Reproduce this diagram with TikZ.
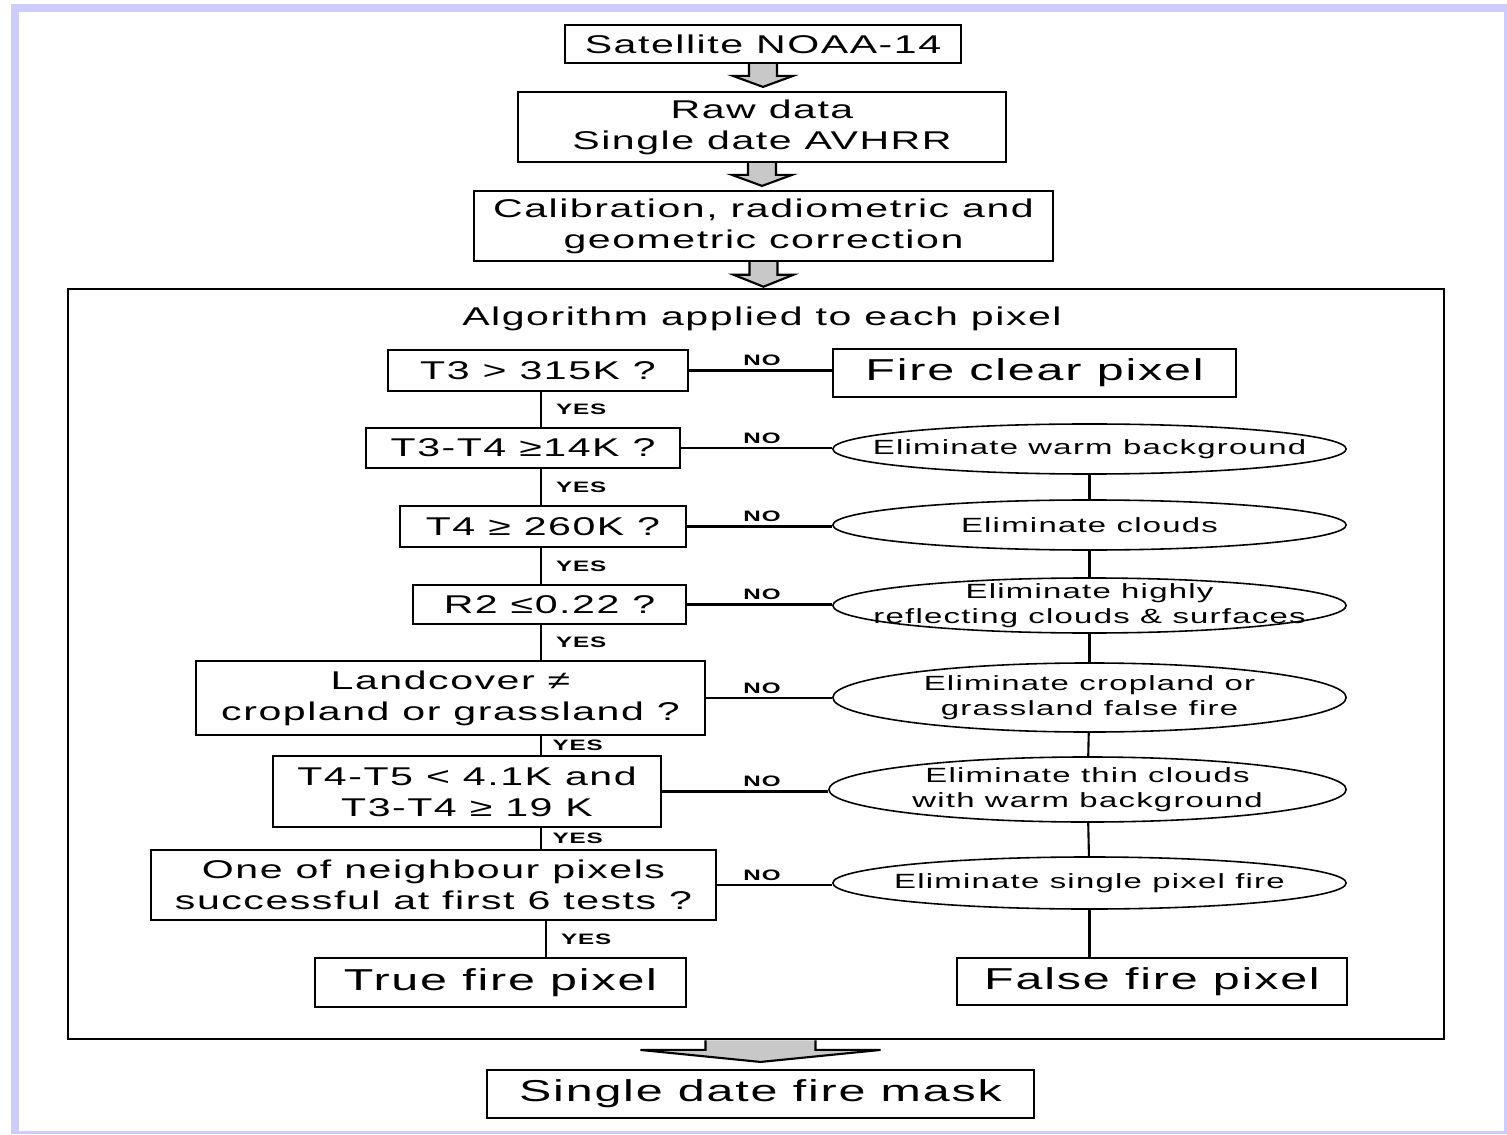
\documentclass[tikz,border=0pt]{standalone}
\usepackage{fontspec}
\setmainfont{Liberation Sans}[FakeStretch=1.6,LetterSpace=6]
\usetikzlibrary{calc,shapes.geometric}
\definecolor{lav}{RGB}{204,204,255}
\definecolor{arrgray}{RGB}{200,200,200}
\newcommand\fmain{\fontsize{7.3}{8.8}\selectfont}
\newcommand\fbig{\fontsize{8.6}{10}\selectfont}
\newcommand\fsmall{\fontsize{5.85}{7}\selectfont}
\newcommand\flab{\fontsize{4.3}{5}\selectfont\bfseries}
\newcommand\fatarrow[6]{\draw[fill=arrgray]($(#1)+(-#3,0)$)--($(#1|-#2)+(-#3,-#5-#6)$)--($(#1|-#2)+(-#4,-#5-#6)$)--($(#1|-#2)+(0,-#6)$)--($(#1|-#2)+(#4,-#5-#6)$)--($(#1|-#2)+(#3,-#5-#6)$)--($(#1)+(#3,0)$);}
\begin{document}
\begin{tikzpicture}[x=0.01cm,y=-0.01cm,line width=.6pt,
box/.style={draw,inner sep=0pt,align=center,font=\fmain},
elli/.style={ellipse,draw,line width=.45pt,inner sep=0pt,minimum width=5.13cm},
etext/.style={align=center,font=\fsmall,inner sep=0pt},
lbl/.style={font=\flab,inner sep=1pt}]
\useasboundingbox(0,0)rectangle(1507,1134);
\fill[lav](11,4)rectangle(1507,1134);\fill[white](19,12)rectangle(1504,1131);
\node[box,minimum width=3.95cm,minimum height=.38cm](sat)at(763,44){Satellite NOAA-14};
\node[box,minimum width=4.88cm,minimum height=.7cm](raw)at(762,127){Raw data\\Single date AVHRR};
\node[box,minimum width=5.79cm,minimum height=.7cm](cal)at(763.5,226){Calibration, radiometric and\\geometric correction};
\node[draw,minimum width=13.76cm,minimum height=7.5cm](alg)at(756,664){};
\node[font=\fmain](tit)at(762,319){Algorithm applied to each pixel};
\node[box,minimum width=3cm,minimum height=.41cm](t1)at(538,370.5){T3 > 315K ?};
\node[box,font=\fbig,minimum width=4.03cm,minimum height=.48cm](fc)at(1034.5,373){Fire clear pixel};
\node[box,minimum width=3.14cm,minimum height=.4cm](t2)at(523,448){T3-T4 ≥14K ?};
\node[elli,minimum height=.5cm](e2)at(1089.5,449){};\node[etext]at(e2){Eliminate warm background};
\node[box,minimum width=2.86cm,minimum height=.41cm](t3)at(543,526.5){T4 ≥ 260K ?};
\node[elli,minimum height=.5cm](e3)at(1089.5,525){};\node[etext]at(e3){Eliminate clouds};
\node[box,minimum width=2.73cm,minimum height=.39cm](t4)at(549.5,604.5){R2 ≤0.22 ?};
\node[elli,minimum height=.55cm](e4)at(1089.5,605.5){};\node[etext]at(e4){Eliminate highly\\reflecting clouds \& surfaces};
\node[box,minimum width=5.09cm,minimum height=.74cm](t5)at(450.5,698){Landcover ≠\\cropland or grassland ?};
\node[elli,minimum height=.69cm](e5)at(1089.5,697.5){};\node[etext]at(e5){Eliminate cropland or\\grassland false fire};
\node[box,minimum width=3.88cm,minimum height=.71cm](t6)at(467,791.5){T4-T5 < 4.1K and\\T3-T4 ≥ 19 K};
\node[elli,minimum width=5.17cm,minimum height=.65cm](e6)at(1087.5,789.5){};\node[etext]at(e6){Eliminate thin clouds\\with warm background};
\node[box,minimum width=5.65cm,minimum height=.7cm](t7)at(433.5,885){One of neighbour pixels\\successful at first 6 tests ?};
\node[elli,minimum height=.52cm](e7)at(1089.5,883){};\node[etext]at(e7){Eliminate single pixel fire};
\node[box,font=\fbig,minimum width=3.71cm,minimum height=.49cm](tf)at(500.5,982.5){True fire pixel};
\node[box,font=\fbig,minimum width=3.9cm,minimum height=.47cm](ff)at(1152,981.5){False fire pixel};
\node[box,font=\fbig,minimum width=5.47cm,minimum height=.48cm](msk)at(760.5,1094){Single date fire mask};
\fatarrow{sat.south}{raw.north}{14}{30}{11}{4}
\fatarrow{raw.south}{cal.north}{14}{30}{11}{4}
\fatarrow{cal.south}{alg.north}{14}{30}{12}{1}
\coordinate(mo)at(alg.south-|msk.north);
\fatarrow{mo}{msk.north}{55}{120}{12}{7}
\coordinate(nox)at(762,0);\coordinate(ys)at(541,0);\coordinate(ys2)at(546,0);
\draw(t1.east)--(t1.east-|fc.west);\node[lbl,above]at(nox|-t1.east){NO};
\draw(t2.east)--(t2.east-|e2.west);\node[lbl,above]at(nox|-t2.east){NO};
\draw(t3.east)--(t3.east-|e3.west);\node[lbl,above]at(nox|-t3.east){NO};
\draw(t4.east)--(t4.east-|e4.west);\node[lbl,above]at(nox|-t4.east){NO};
\draw(t5.east)--(t5.east-|e5.west);\node[lbl,above]at(nox|-t5.east){NO};
\draw(t6.east)--(t6.east-|e6.west);\node[lbl,above]at(nox|-t6.east){NO};
\draw(t7.east)--(t7.east-|e7.west);\node[lbl,above]at(nox|-t7.east){NO};
\draw(ys|-t1.south)--(ys|-t2.north)node[lbl,midway,right=3pt]{YES};
\draw(ys|-t2.south)--(ys|-t3.north)node[lbl,midway,right=3pt]{YES};
\draw(ys|-t3.south)--(ys|-t4.north)node[lbl,midway,right=3pt]{YES};
\draw(ys|-t4.south)--(ys|-t5.north)node[lbl,midway,right=3pt]{YES};
\draw(ys|-t5.south)--(ys|-t6.north)node[lbl,midway,right=2pt]{YES};
\draw(ys|-t6.south)--(ys|-t7.north)node[lbl,midway,right=2pt]{YES};
\draw(ys2|-t7.south)--(ys2|-tf.north)node[lbl,midway,right=3pt]{YES};
\draw(e2)--(e3);\draw(e3)--(e4);\draw(e4)--(e5);\draw(e5)--(e6);\draw(e6)--(e7);
\draw(e7.south)--(e7.south|-ff.north);
\end{tikzpicture}
\end{document}
